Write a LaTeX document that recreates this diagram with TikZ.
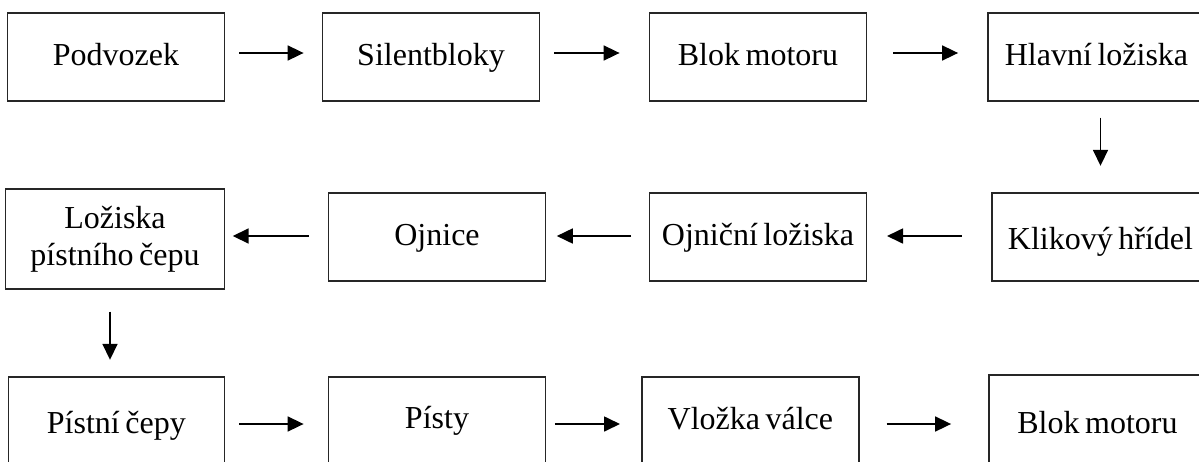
\documentclass[tikz,border=0pt]{standalone}
\usepackage{fontspec}
\setmainfont[WordSpace=0.7]{Liberation Serif}
\usetikzlibrary{arrows.meta}
\begin{document}
\begin{tikzpicture}[x=1pt,y=-1pt,
  box/.style={draw=black!85,line width=1.8pt,minimum width=217pt,minimum height=88pt,inner sep=0pt,font=\fontsize{32}{36.7}\selectfont},
  one/.style={text height=24pt,text depth=7pt},
  arr/.style={line width=1.7pt,-{Triangle[length=16pt,width=15pt]}}]
\useasboundingbox (0,0) rectangle (1199,461);
\fill[white] (0,0) rectangle (1199,461);
\clip (0,0) rectangle (1199,461);
% row 1
\node[box,one] (p1) at (116,57) {Podvozek};
\node[box,one] (p2) at (431,57) {Silentbloky};
\node[box,one] (p3) at (758,57) {Blok motoru};
\node[box,one] (p4) at (1096.5,57) {Hlavní ložiska};
% row 2
\node[box,one,text height=31pt] (k) at (1100.5,237) {Klikový hřídel};
\node[box,one] (o2) at (758,237) {Ojniční ložiska};
\node[box,one] (o1) at (437,237) {Ojnice};
\node[box,minimum height=100pt,minimum width=219pt,align=center] (l) at (115,239) {Ložiska\\pístního čepu};
% row 3
\node[box,one,text height=31pt,minimum width=216pt] (pc) at (116.4,421) {Pístní čepy};
\node[box,one,text height=21pt] (ps) at (437,421) {Písty};
\node[box,one] (v) at (750.4,421) {Vložka válce};
\node[box,one,text height=35pt] (bm) at (1097.5,419) {Blok motoru};
% arrows
\draw[arr,shorten <=14pt,shorten >=18pt] ([yshift=4pt]p1.east) -- ([yshift=4pt]p2.west);
\draw[arr,shorten <=14pt,shorten >=29pt] ([yshift=4pt]p2.east) -- ([yshift=4pt]p3.west);
\draw[arr,shorten <=25.6pt,shorten >=29pt] ([yshift=4pt]p3.east) -- ([yshift=4pt]p4.west);
\draw[arr,shorten <=15.7pt,shorten >=26.3pt] (p4.south -| k.north) -- (k.north);
\draw[arr,shorten <=29.4pt,shorten >=19.6pt] ([yshift=1pt]k.west) -- ([yshift=1pt]o2.east);
\draw[arr,shorten <=17.6pt,shorten >=10.4pt] ([yshift=1pt]o2.west) -- ([yshift=1pt]o1.east);
\draw[arr,shorten <=19pt,shorten >=7.3pt] ([yshift=1pt]o1.west) -- ([yshift=1pt]o1.west -| l.east);
\draw[arr,shorten <=21.7pt,shorten >=16.3pt] ([xshift=-5pt]l.south) -- ([xshift=-5pt]l.south |- pc.north);
\draw[arr,shorten <=14pt,shorten >=24pt] ([yshift=-3pt]pc.east) -- ([yshift=-3pt]ps.west);
\draw[arr,shorten <=8.4pt,shorten >=21pt] ([yshift=-3pt]ps.east) -- ([yshift=-3pt]v.west);
\draw[arr,shorten <=26.7pt,shorten >=37pt] ([yshift=-3pt]v.east) -- ([yshift=-3pt]v.east -| bm.west);
\end{tikzpicture}
\end{document}
